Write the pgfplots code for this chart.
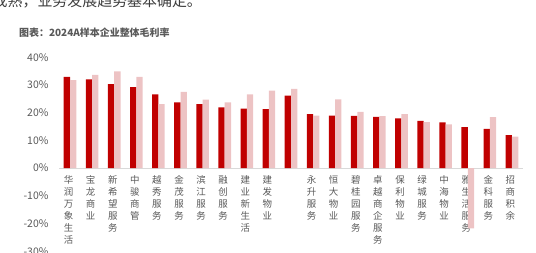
\documentclass[border=0pt]{standalone}
\usepackage{fontspec}
\setmainfont{Noto Sans CJK SC}
\usepackage{pgfplots}
\usepackage{pgfplotstable}
\pgfplotsset{compat=1.18}
\definecolor{cred}{HTML}{C00000}
\definecolor{cpink}{HTML}{EDC3C4}
\definecolor{cgray}{HTML}{595959}
\definecolor{cline}{HTML}{D9D9D9}
\pgfplotstableread{
x red pink
0 32.9 31.8
1 32.0 33.7
2 30.3 34.9
3 29.2 32.9
4 26.6 23.1
5 23.7 27.5
6 23.1 24.7
7 21.9 23.7
8 21.5 26.6
9 21.3 28.0
10 26.2 28.6
11 19.5 19.0
12 19.0 24.8
13 18.9 20.3
14 18.5 18.8
15 18.0 19.5
16 17.1 16.6
17 16.5 15.8
18 14.8 -21.7
19 14.2 18.4
20 11.9 11.4
}\gmdata
\begin{document}
\begin{tikzpicture}[x=1bp,y=1bp]
\node[anchor=base west, font=\fontsize{15}{15}\selectfont, text=cgray!70!black, inner sep=0] at (-7.5,245.5) {成熟，业务发展趋势基本确定。};
\node[anchor=west, font=\bfseries\fontsize{10}{12}\selectfont, text=cgray, inner sep=0] at (19,219) {图表：2024A样本企业整体毛利率};
\begin{axis}[
  at={(59bp,0.7bp)}, anchor=south west,
  scale only axis, width=464bp, height=194bp,
  ymin=-30, ymax=40, xmin=-0.5, xmax=20.5,
  ybar=0pt, bar width=6.3bp,
  axis x line*=middle, axis y line*=left,
  y axis line style={draw=none},
  x axis line style={draw=cline, line width=1.3bp},
  major tick length=0pt,
  ytick={-30,-20,...,40},
  yticklabel={\pgfmathprintnumber{\tick}\%},
  /pgf/number format/assume math mode=true,
  yticklabel style={font=\fontsize{10.5}{12}\selectfont, text=cgray, anchor=east, xshift=-7bp},
  xtick={0,...,20},
  xticklabels={{华\\润\\万\\象\\生\\活},{宝\\龙\\商\\业},{新\\希\\望\\服\\务},{中\\骏\\商\\管},{越\\秀\\服\\务},{金\\茂\\服\\务},{滨\\江\\服\\务},{融\\创\\服\\务},{建\\业\\新\\生\\活},{建\\发\\物\\业},{},{永\\升\\服\\务},{恒\\大\\物\\业},{碧\\桂\\园\\服\\务},{卓\\越\\商\\企\\服\\务},{保\\利\\物\\业},{绿\\城\\服\\务},{中\\海\\物\\业},{雅\\生\\活\\服\\务},{金\\科\\服\\务},{招\\商\\积\\余}},
  xticklabel style={font=\fontsize{9.5}{12}\selectfont, text=cgray, align=center, anchor=north, yshift=-4bp, xshift=-1.5bp},
  clip=false,
]
\addplot[fill=cred, draw=none] table[x=x, y=red] {\gmdata};
\addplot[fill=cpink, draw=none] table[x=x, y=pink] {\gmdata};
\end{axis}
\pgfresetboundingbox
\path[use as bounding box] (0,0) rectangle (536,252);
\end{tikzpicture}
\end{document}
